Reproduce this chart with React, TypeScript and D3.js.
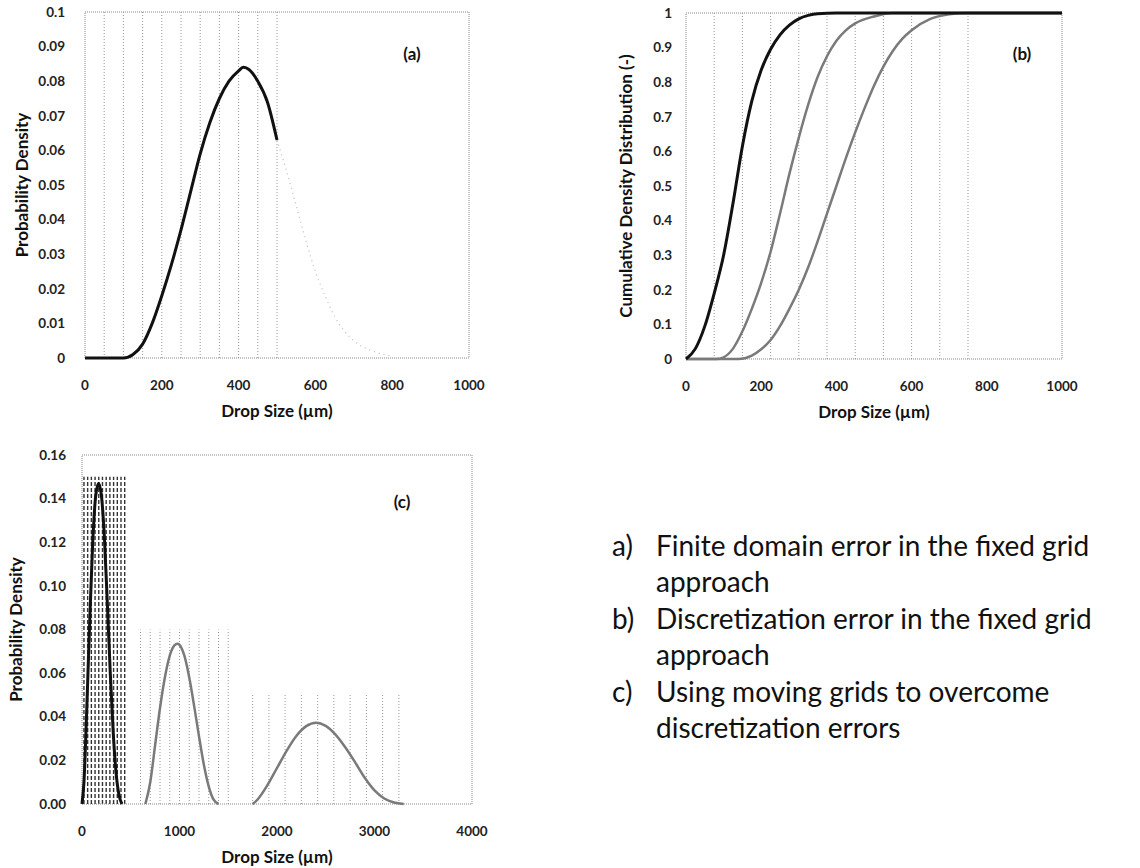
import * as d3 from 'd3';

// ---- panel (a): truncated pdf on fixed grid ----
const sizeA = [0, 50, 100, 125, 150, 175, 200, 225, 250, 275, 300, 325, 350, 375, 400, 412, 425, 450, 475, 500];
const densA = [0, 0, 0, 0.001, 0.004, 0.01, 0.018, 0.027, 0.037, 0.048, 0.059, 0.068, 0.075, 0.08, 0.083, 0.084, 0.0835, 0.08, 0.074, 0.063];
const tailSizeA = [500, 525, 550, 575, 600, 625, 650, 700, 750, 800];
const tailDensA = [0.063, 0.054, 0.044, 0.034, 0.025, 0.018, 0.012, 0.005, 0.002, 0.0005];
const gridA = [50, 100, 150, 200, 250, 300, 350, 400, 450, 500];

// ---- panel (b): cumulative distributions ----
const sizeB1 = [0, 25, 50, 75, 100, 125, 150, 175, 200, 225, 250, 275, 300, 325, 350, 400, 500, 1000];
const cdfB1 = [0, 0.03, 0.095, 0.19, 0.3, 0.45, 0.615, 0.745, 0.835, 0.895, 0.937, 0.965, 0.983, 0.993, 0.998, 1, 1, 1];
const sizeB2 = [0, 80, 100, 125, 150, 175, 200, 225, 250, 275, 300, 325, 350, 375, 400, 425, 450, 500, 550, 1000];
const cdfB2 = [0, 0, 0.005, 0.03, 0.08, 0.145, 0.22, 0.31, 0.42, 0.535, 0.64, 0.735, 0.815, 0.875, 0.92, 0.95, 0.97, 0.99, 1, 1];
const sizeB3 = [0, 140, 175, 200, 225, 250, 275, 300, 325, 350, 375, 400, 425, 450, 475, 500, 525, 550, 575, 600, 650, 700, 750, 1000];
const cdfB3 = [0, 0, 0.01, 0.028, 0.055, 0.095, 0.145, 0.2, 0.265, 0.34, 0.42, 0.5, 0.58, 0.655, 0.725, 0.79, 0.845, 0.89, 0.925, 0.95, 0.983, 0.996, 1, 1];
const gridB = [75, 150, 225, 300, 375, 450, 525, 600, 675, 750];

// ---- panel (c): moving grids ----
const sizeC1 = [0, 20, 50, 80, 110, 140, 170, 200, 230, 260, 290, 320, 350, 380, 410];
const densC1 = [0, 0.01, 0.045, 0.085, 0.12, 0.141, 0.147, 0.141, 0.122, 0.092, 0.06, 0.033, 0.014, 0.004, 0];
const sizeC2 = [650, 700, 750, 800, 850, 900, 950, 980, 1000, 1050, 1100, 1150, 1200, 1250, 1300, 1350, 1400];
const densC2 = [0, 0.01, 0.027, 0.044, 0.058, 0.068, 0.0728, 0.0735, 0.073, 0.068, 0.058, 0.045, 0.031, 0.018, 0.008, 0.002, 0];
const sizeC3 = [1750, 1800, 1900, 2000, 2100, 2200, 2300, 2400, 2500, 2600, 2700, 2800, 2900, 3000, 3100, 3200, 3300];
const densC3 = [0, 0.002, 0.0085, 0.0165, 0.0245, 0.0313, 0.0357, 0.0373, 0.0358, 0.0318, 0.026, 0.0192, 0.012, 0.0062, 0.0025, 0.0007, 0];
const gridC1 = [20, 58, 96, 134, 172, 210, 248, 286, 324, 362, 400, 438];
const gridC2 = [600, 700, 800, 900, 1000, 1100, 1200, 1300, 1400, 1500];
const gridC3 = [1750, 1917, 2083, 2250, 2417, 2583, 2750, 2917, 3083, 3250];

const ticksA = [0, 0.01, 0.02, 0.03, 0.04, 0.05, 0.06, 0.07, 0.08, 0.09, 0.1];
const ticksB = [0, 0.1, 0.2, 0.3, 0.4, 0.5, 0.6, 0.7, 0.8, 0.9, 1];
const ticksC = [0, 0.02, 0.04, 0.06, 0.08, 0.1, 0.12, 0.14, 0.16];
const xTicks1000 = [0, 200, 400, 600, 800, 1000];
const xTicks4000 = [0, 1000, 2000, 3000, 4000];

const notes = [
  ['a)', 'Finite domain error in the fixed grid', 'approach'],
  ['b)', 'Discretization error in the fixed grid', 'approach'],
  ['c)', 'Using moving grids to overcome', 'discretization errors'],
];

const FONT = "Lato, 'Open Sans', sans-serif";

function Panel({ box, xDomain, yDomain, xTicks, yTicks, yFmt, yTitle, tag, tagPos, grids, curves }) {
  const x = d3.scaleLinear().domain(xDomain).range([box.left, box.right]);
  const y = d3.scaleLinear().domain(yDomain).range([box.bottom, box.top]);
  const line = d3.line().x((d) => x(d[0])).y((d) => y(d[1])).curve(d3.curveMonotoneX);

  return (
    <g>
      {grids.map((g, gi) =>
        g.xs.map((v, i) => (
          <line key={`g${gi}-${i}`} x1={x(v)} x2={x(v)} y1={y(0)} y2={y(g.top)}
            stroke={g.color} strokeWidth={g.width} strokeDasharray={g.dash} />
        ))
      )}
      <rect x={box.left} y={box.top} width={box.right - box.left} height={box.bottom - box.top}
        fill="none" stroke="#888" strokeWidth={1} strokeDasharray="1,1" />
      {curves.map((c, i) => (
        <path key={`c${i}`} d={line(d3.zip(c.xs, c.ys))} fill="none" stroke={c.color}
          strokeWidth={c.width} strokeDasharray={c.dash || null} strokeLinejoin="round" />
      ))}
      {yTicks.map((t) => (
        <text key={`y${t}`} x={box.left - box.gap} y={y(t)} dy="0.35em" textAnchor="end"
          fontSize={13.5} fontWeight="bold" fill="#222">{yFmt(t)}</text>
      ))}
      {xTicks.map((t) => (
        <text key={`x${t}`} x={x(t)} y={box.bottom + 32} textAnchor="middle"
          fontSize={13.5} fontWeight="bold" fill="#222">{t}</text>
      ))}
      <text x={(box.left + box.right) / 2} y={box.bottom + 59} textAnchor="middle"
        fontSize={17} fontWeight="bold" fill="#111">Drop Size (µm)</text>
      <text transform={`translate(${box.titleX},${(box.top + box.bottom) / 2}) rotate(-90)`}
        textAnchor="middle" fontSize={17} fontWeight="bold" fill="#111">{yTitle}</text>
      <text x={tagPos[0]} y={tagPos[1]} textAnchor="middle" fontSize={17} fontWeight="bold" fill="#111">{tag}</text>
    </g>
  );
}

export default function App() {
  const fmtA = (d) => (d === 0 ? '0' : d3.format('.2~f')(d));
  const fmtB = (d) => (d === 0 ? '0' : d3.format('.1~f')(d));
  const fmtC = d3.format('.2f');
  const dotted = { color: '#999', width: 1, dash: '1,2' };

  return (
    <svg width={1140} height={868} style={{ position: 'absolute', left: 0, top: 0, background: '#fff' }}
      fontFamily={FONT}>
      <Panel
        box={{ left: 85, right: 469, top: 12, bottom: 358, titleX: 28, gap: 20 }}
        xDomain={[0, 1000]} yDomain={[0, 0.1]} xTicks={xTicks1000} yTicks={ticksA} yFmt={fmtA}
        yTitle="Probability Density" tag="(a)" tagPos={[412, 60]}
        grids={[{ xs: gridA, top: 0.1, ...dotted }]}
        curves={[
          { xs: tailSizeA, ys: tailDensA, color: '#bbb', width: 1.2, dash: '1,4' },
          { xs: sizeA, ys: densA, color: '#111', width: 3 },
        ]}
      />
      <Panel
        box={{ left: 686, right: 1062, top: 13, bottom: 359, titleX: 632, gap: 14 }}
        xDomain={[0, 1000]} yDomain={[0, 1]} xTicks={xTicks1000} yTicks={ticksB} yFmt={fmtB}
        yTitle="Cumulative Density Distribution (-)" tag="(b)" tagPos={[1022, 60]}
        grids={[{ xs: gridB, top: 1, ...dotted }]}
        curves={[
          { xs: sizeB3, ys: cdfB3, color: '#7a7a7a', width: 2.5 },
          { xs: sizeB2, ys: cdfB2, color: '#7a7a7a', width: 2.5 },
          { xs: sizeB1, ys: cdfB1, color: '#111', width: 3 },
        ]}
      />
      <Panel
        box={{ left: 82, right: 472, top: 455, bottom: 804, titleX: 22, gap: 16 }}
        xDomain={[0, 4000]} yDomain={[0, 0.16]} xTicks={xTicks4000} yTicks={ticksC} yFmt={fmtC}
        yTitle="Probability Density" tag="(c)" tagPos={[402, 508]}
        grids={[
          { xs: gridC1, top: 0.15, color: '#333', width: 1.4, dash: '4,2' },
          { xs: gridC2, top: 0.08, ...dotted },
          { xs: gridC3, top: 0.05, ...dotted },
        ]}
        curves={[
          { xs: sizeC2, ys: densC2, color: '#7a7a7a', width: 2.5 },
          { xs: sizeC3, ys: densC3, color: '#7a7a7a', width: 2.5 },
          { xs: sizeC1, ys: densC1, color: '#111', width: 3 },
        ]}
      />
      <g fontSize={28} fill="#111">
        {notes.map((n, i) => (
          <g key={n[0]}>
            <text x={612} y={556 + i * 73}>{n[0]}</text>
            <text x={656} y={556 + i * 73}>{n[1]}</text>
            <text x={656} y={592 + i * 73}>{n[2]}</text>
          </g>
        ))}
      </g>
    </svg>
  );
}
